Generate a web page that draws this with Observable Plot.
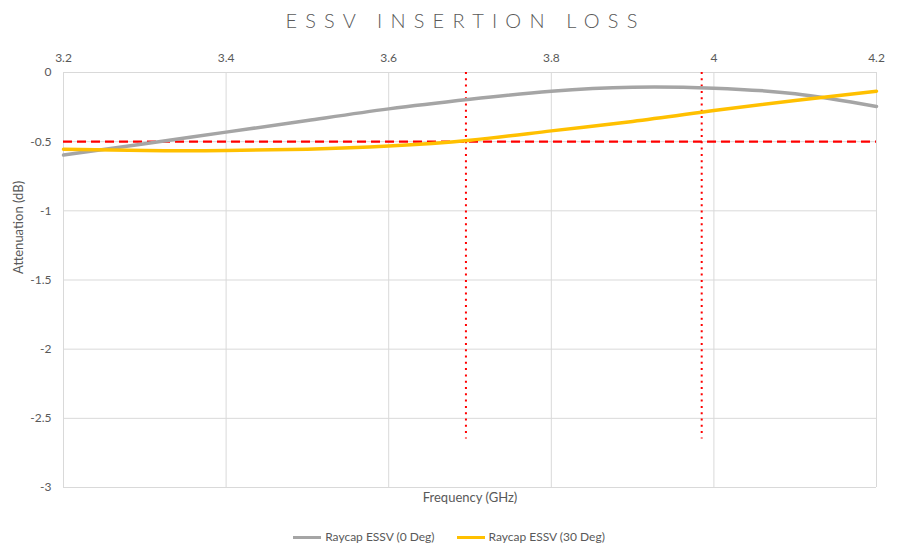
<!DOCTYPE html>
<html><head><meta charset="utf-8">
<script src="https://cdn.jsdelivr.net/npm/d3@7"></script>
<script src="https://cdn.jsdelivr.net/npm/@observablehq/plot@0.6"></script>
<style>
body{margin:0;background:#fff;font-family:Lato,"Open Sans",sans-serif;color:#595959;}
#title{height:40px;line-height:40px;text-align:center;font-size:20px;letter-spacing:8.2px;font-weight:300;padding-left:33px;box-sizing:border-box;width:898px;color:#595959;}
#chart svg{display:block;}
#legend{width:898px;margin-top:20px;display:flex;justify-content:center;align-items:center;font-size:12px;line-height:14px;color:#595959;}
.item{display:flex;align-items:center;margin:0 11px;}
.sw{width:28px;height:3px;margin-right:4px;}
</style></head><body>
<div id="title">ESSV INSERTION LOSS</div>
<div id="chart"></div>
<div id="legend"></div>
<script>
const freq = [3.2, 3.3, 3.4, 3.5, 3.6, 3.7, 3.8, 3.9, 4.0, 4.1, 4.2];
const deg0 = [-0.597, -0.515, -0.431, -0.347, -0.263, -0.193, -0.135, -0.106, -0.113, -0.154, -0.246];
const deg30 = [-0.554, -0.564, -0.564, -0.554, -0.532, -0.49, -0.422, -0.354, -0.275, -0.202, -0.135];
const xTicks = [3.2, 3.4, 3.6, 3.8, 4, 4.2];
const yTicks = [0, -0.5, -1, -1.5, -2, -2.5, -3];
const limitLoss = -0.5;
const bandEdges = [3.695, 3.985];
const bandSpan = [0, -2.65];
const seriesNames = ["Raycap ESSV (0 Deg)", "Raycap ESSV (30 Deg)"];
const seriesColors = ["#A5A5A5", "#FFC000"];

const s0 = freq.map((f, i) => ({f, v: deg0[i]}));
const s1 = freq.map((f, i) => ({f, v: deg30[i]}));
const edges = bandEdges.map(f => ({f, y1: bandSpan[0], y2: bandSpan[1]}));

const plot = Plot.plot({
  width: 898,
  height: 470,
  marginLeft: 63,
  marginRight: 22,
  marginTop: 32,
  marginBottom: 23,
  style: {fontFamily: "Lato, 'Open Sans', sans-serif", fontSize: "12px", color: "#595959", background: "#fff"},
  x: {domain: [3.2, 4.2]},
  y: {domain: [-3, 0]},
  marks: [
    Plot.gridX(xTicks, {stroke: "#d9d9d9", strokeOpacity: 1, strokeWidth: 1}),
    Plot.gridY(yTicks, {stroke: "#d9d9d9", strokeOpacity: 1, strokeWidth: 1}),
    Plot.axisX(xTicks, {anchor: "top", tickSize: 0, tickPadding: 11, tickFormat: d => String(d), label: null, fill: "#595959", fontSize: 12}),
    Plot.axisY(yTicks, {anchor: "left", tickSize: 0, tickPadding: 12, tickFormat: d => String(d), label: null, fill: "#595959", fontSize: 12}),
    Plot.text(["Frequency (GHz)"], {frameAnchor: "bottom", dy: 14, fill: "#595959", fontSize: 13}),
    Plot.text(["Attenuation (dB)"], {frameAnchor: "left", dx: -45, dy: -6, rotate: -90, fill: "#595959", fontSize: 13}),
    Plot.ruleY([limitLoss], {x1: 3.2, x2: 4.2, stroke: "#FF0000", strokeWidth: 2.2, strokeDasharray: "9,5"}),
    Plot.ruleX(edges, {x: "f", y1: "y1", y2: "y2", stroke: "#FF0000", strokeWidth: 2, strokeDasharray: "2,4.3"}),
    Plot.line(s0, {x: "f", y: "v", stroke: seriesColors[0], strokeWidth: 3.5, curve: "natural"}),
    Plot.line(s1, {x: "f", y: "v", stroke: seriesColors[1], strokeWidth: 3.5, curve: "natural"})
  ]
});
document.getElementById("chart").appendChild(plot);

const lg = document.getElementById("legend");
seriesNames.forEach((n, i) => {
  const it = document.createElement("div");
  it.className = "item";
  it.innerHTML = `<div class="sw" style="background:${seriesColors[i]}"></div><span>${n}</span>`;
  lg.appendChild(it);
});
</script>
</body></html>
